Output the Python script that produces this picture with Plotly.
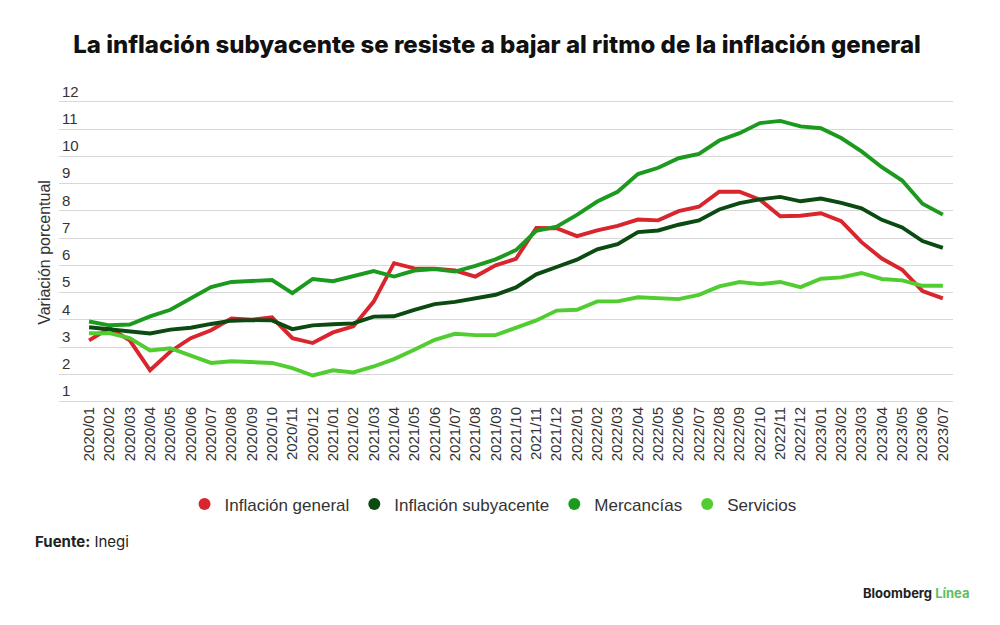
import plotly.graph_objects as go

months = [f"{y}/{m:02d}" for y in (2020, 2021, 2022, 2023) for m in range(1, 13)][:43]

general = [3.25, 3.70, 3.25, 2.15, 2.84, 3.33, 3.62, 4.05, 4.01, 4.09, 3.33, 3.15,
           3.54, 3.76, 4.67, 6.08, 5.89, 5.88, 5.81, 5.59, 6.00, 6.24, 7.37, 7.36,
           7.07, 7.28, 7.45, 7.68, 7.65, 7.99, 8.15, 8.70, 8.70, 8.41, 7.80, 7.82,
           7.91, 7.62, 6.85, 6.25, 5.84, 5.06, 4.79]
subyacente = [3.73, 3.66, 3.60, 3.50, 3.64, 3.71, 3.85, 3.97, 3.99, 3.98, 3.66, 3.80,
              3.84, 3.87, 4.12, 4.13, 4.37, 4.58, 4.66, 4.78, 4.92, 5.19, 5.67, 5.94,
              6.21, 6.59, 6.78, 7.22, 7.28, 7.49, 7.65, 8.05, 8.28, 8.42, 8.51, 8.35,
              8.45, 8.29, 8.09, 7.67, 7.39, 6.89, 6.64]
mercancias = [3.94, 3.80, 3.83, 4.13, 4.37, 4.78, 5.20, 5.39, 5.43, 5.46, 4.98, 5.50,
              5.42, 5.61, 5.79, 5.59, 5.81, 5.86, 5.77, 5.98, 6.22, 6.56, 7.27, 7.42,
              7.85, 8.34, 8.70, 9.35, 9.58, 9.93, 10.09, 10.58, 10.85, 11.22, 11.30, 11.10,
              11.03, 10.67, 10.18, 9.60, 9.11, 8.26, 7.86]
servicios = [3.51, 3.51, 3.33, 2.88, 2.96, 2.68, 2.42, 2.48, 2.44, 2.42, 2.23, 1.96,
             2.15, 2.07, 2.29, 2.56, 2.90, 3.27, 3.49, 3.44, 3.44, 3.70, 3.98, 4.34,
             4.37, 4.68, 4.68, 4.83, 4.79, 4.76, 4.92, 5.23, 5.39, 5.31, 5.39, 5.20,
             5.51, 5.56, 5.72, 5.50, 5.45, 5.25, 5.25]

series_names = ["Inflación general", "Inflación subyacente", "Mercancías", "Servicios"]
series_values = [general, subyacente, mercancias, servicios]
colors = ["#d9262e", "#0b4a10", "#1c9a1f", "#52cd31"]
y_ticks = list(range(1, 13))

fig = go.Figure()
for name, vals, col in zip(series_names, series_values, colors):
    fig.add_trace(go.Scatter(x=months, y=vals, mode="lines", name=name,
                             line=dict(color=col, width=3.9), showlegend=False))
for name, col in zip(series_names, colors):
    fig.add_trace(go.Scatter(x=[None], y=[None], mode="markers", name=name,
                             marker=dict(color=col, size=15, symbol="circle")))

# page body has an 8px default margin, so the figure is drawn 8px smaller
fig.update_layout(
    width=992, height=617,
    margin=dict(l=51, r=47, t=72, b=221.6, autoexpand=False),
    paper_bgcolor="white", plot_bgcolor="white",
    font=dict(family="Liberation Sans, Arial, sans-serif", color="#333333"),
    title=dict(text="La inflación subyacente se resiste a bajar al ritmo de la inflación general",
               x=0.493, xanchor="center", y=0.940, yanchor="middle",
               font=dict(family="Inter, Roboto, sans-serif", size=24, color="#111111",
                         weight=800)),
    legend=dict(orientation="h", x=0.4855, xanchor="center", y=-0.314, yanchor="middle",
                font=dict(family="Liberation Sans, Arial, sans-serif", size=17,
                          color="#333333"),
                itemsizing="constant", itemwidth=30, tracegroupgap=0),
    showlegend=True,
)
fig.update_xaxes(type="category", range=[-1.48, 42.5], tickangle=-90,
                 showgrid=False, showline=False, ticks="", automargin=False,
                 tickfont=dict(size=15, color="#333333"))
fig.update_yaxes(range=[0.95, 12.8], tickvals=y_ticks, ticklabelposition="inside top",
                 showgrid=True, gridcolor="#d8d8d8", gridwidth=1, zeroline=False,
                 showline=False, ticks="", automargin=False,
                 tickfont=dict(size=15, color="#333333"))

fig.add_annotation(text="Variación porcentual", textangle=-90, xref="paper", yref="paper",
                   x=-0.0157, y=0.468, xanchor="center", yanchor="middle", showarrow=False,
                   font=dict(family="Liberation Sans, Arial, sans-serif", size=16,
                             color="#333333"))
fig.add_annotation(text="<b>Fuente:</b> Inegi", xref="paper", yref="paper",
                   x=-0.029, y=-0.4286, xanchor="left", yanchor="middle", showarrow=False,
                   font=dict(family="Inter, Roboto, sans-serif", size=15, color="#222222"))
fig.add_annotation(text="<b>Bloomberg <span style='color:#5cc060'>Línea</span></b>",
                   xref="paper", yref="paper", x=1.021, y=-0.589, xanchor="right",
                   yanchor="middle", showarrow=False,
                   font=dict(family="Inter, Roboto, sans-serif", size=13, color="#222222"))

fig.write_html("out.html")
